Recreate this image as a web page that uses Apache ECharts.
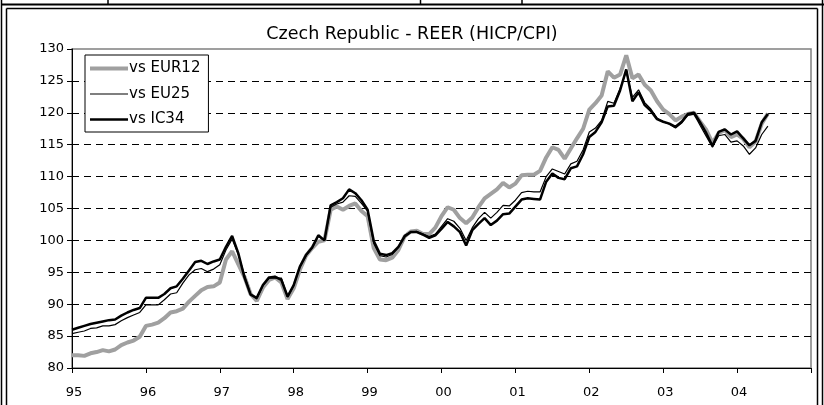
<!DOCTYPE html>
<html><head><meta charset="utf-8">
<script src="https://cdn.jsdelivr.net/npm/echarts@6/dist/echarts.min.js"></script>
<style>html,body{margin:0;padding:0;background:#fff}#c{width:824px;height:405px}</style>
</head><body><div id="c"></div><script>
const chartTitle = 'Czech Republic - REER (HICP/CPI)';
const seriesNames = ['vs EUR12', 'vs EU25', 'vs IC34'];
const startYear = 1995;
const endYear = 2005;
const xTickLabels = ['95','96','97','98','99','00','01','02','03','04'];
const yTicks = [80, 85, 90, 95, 100, 105, 110, 115, 120, 125, 130];

const eur12 = [
 82.0, 82.0, 81.9, 82.3, 82.5, 82.8, 82.6, 82.9, 83.6, 84.0, 84.3, 84.9,
 86.6, 86.8, 87.1, 87.8, 88.7, 88.9, 89.3, 90.4, 91.3, 92.2, 92.7, 92.8,
 93.4, 97.0, 98.3, 96.3, 94.3, 91.6, 90.5, 92.6, 93.8, 94.2, 93.4, 90.8,
 92.5, 95.4, 97.6, 98.8, 99.8, 100.0, 104.8, 105.3, 104.8, 105.4, 105.8, 104.6,
 103.8, 98.8, 97.0, 96.9, 97.3, 98.5, 100.6, 101.4, 101.5, 101.0, 101.0, 102.0,
 103.8, 105.2, 104.8, 103.5, 102.7, 103.6, 105.2, 106.6, 107.3, 108.0, 109.0, 108.3,
 108.9, 110.2, 110.3, 110.3, 110.9, 113.0, 114.6, 114.2, 112.8, 114.4, 116.0, 117.5,
 120.5, 121.5, 122.7, 126.5, 125.5, 126.0, 129.0, 125.4, 126.0, 124.4, 123.5, 121.8,
 120.5, 119.8, 118.8, 119.4, 119.8, 120.0, 118.6, 117.3, 115.3, 116.8, 117.3, 116.2,
 116.6, 115.9, 114.6, 115.5, 118.3, 119.9
];
const eu25 = [
 85.4, 85.6, 85.8, 86.2, 86.3, 86.6, 86.6, 86.8, 87.4, 87.9, 88.3, 88.7,
 89.9, 89.9, 89.9, 90.7, 91.6, 91.8, 93.3, 94.6, 95.4, 95.6, 95.1, 95.5,
 96.2, 98.5, 100.2, 97.8, 94.6, 91.6, 90.8, 92.9, 94.1, 94.1, 94.1, 91.1,
 92.9, 95.8, 97.6, 98.8, 100.6, 100.0, 105.2, 105.7, 106.0, 107.0, 106.9, 105.8,
 104.6, 99.5, 97.6, 97.4, 97.8, 98.9, 100.8, 101.3, 101.4, 101.0, 100.6, 101.0,
 102.2, 103.4, 103.0, 101.9, 100.0, 102.0, 103.4, 104.4, 103.5, 104.4, 105.5, 105.4,
 106.3, 107.5, 107.7, 107.6, 107.6, 110.0, 111.2, 110.8, 110.4, 112.0, 112.4, 114.2,
 117.0, 117.6, 118.8, 121.8, 121.5, 123.8, 126.5, 122.4, 123.6, 121.6, 120.6, 119.2,
 118.6, 118.2, 117.6, 118.4, 119.6, 119.8, 118.0, 116.3, 114.6, 116.4, 116.6, 115.4,
 115.6, 114.8, 113.5, 114.5, 116.6, 117.9
];
const ic34 = [
 86.0, 86.3, 86.6, 86.9, 87.1, 87.3, 87.5, 87.6, 88.2, 88.7, 89.1, 89.4,
 91.0, 91.0, 91.0, 91.6, 92.5, 92.8, 94.0, 95.3, 96.6, 96.8, 96.3, 96.7,
 97.0, 99.0, 100.7, 98.0, 94.2, 91.5, 91.0, 93.0, 94.2, 94.3, 93.8, 91.2,
 93.0, 95.9, 97.7, 98.9, 100.8, 100.0, 105.5, 106.0, 106.6, 108.0, 107.4, 106.3,
 104.8, 99.9, 97.9, 97.7, 98.0, 99.0, 100.6, 101.3, 101.3, 100.9, 100.4, 100.8,
 101.8, 102.9, 102.2, 101.3, 99.2, 101.6, 102.6, 103.5, 102.4, 103.1, 104.1, 104.2,
 105.3, 106.4, 106.6, 106.5, 106.4, 109.2, 110.5, 109.8, 109.6, 111.3, 111.6, 113.5,
 116.2, 117.0, 118.5, 121.0, 121.1, 123.5, 126.8, 121.8, 123.2, 121.2, 120.3, 119.0,
 118.6, 118.3, 117.8, 118.6, 119.8, 120.0, 118.5, 116.8, 114.8, 117.0, 117.4, 116.6,
 117.1, 116.0, 114.9, 115.6, 118.5, 119.8
];

const monthPos = eur12.map((_, i) => startYear + i / 12);
const pair = arr => arr.map((v, i) => [monthPos[i], v]);
const FONT = 'DejaVu Sans';
const colors = ['#a0a0a0', '#000', '#000'];
const widths = [4, 1.2, 2.5];

const chart = echarts.init(document.getElementById('c'), null, {renderer: 'canvas'});
const frameLine = (x1, y1, x2, y2, w) => ({type: 'line', silent: true, z: 100,
  shape: {x1, y1, x2, y2}, style: {stroke: '#000', lineWidth: w}});

chart.setOption({
  animation: false,
  backgroundColor: '#fff',
  grid: {left: 72, right: 13, top: 49, bottom: 37, show: true,
    borderColor: '#808080', borderWidth: 1.5, backgroundColor: 'transparent'},
  graphic: [
    frameLine(1.5, 0, 1.5, 405, 1.5),
    frameLine(6.5, 8.5, 6.5, 405, 1.5),
    frameLine(817.5, 8.5, 817.5, 405, 1.5),
    frameLine(822.5, 0, 822.5, 405, 1.5),
    frameLine(1.5, 4.5, 824, 4.5, 2),
    frameLine(6.5, 8.5, 817.5, 8.5, 1.5),
    frameLine(108, 0, 108, 4, 1.5),
    frameLine(420.5, 0, 420.5, 4, 1.5),
    frameLine(522, 0, 522, 4, 1.5),
    {type: 'text', left: 'center', top: 25, silent: true,
      style: {text: chartTitle, font: '17.5px "DejaVu Sans"', fill: '#000'}}
  ],
  legend: {
    orient: 'vertical', left: 85, top: 55,
    backgroundColor: '#fff', borderColor: '#000', borderWidth: 1,
    padding: [6, 8, 5, 3], itemGap: 10.5, itemWidth: 38, itemHeight: 14,
    itemStyle: {opacity: 0},
    textStyle: {fontFamily: FONT, fontSize: 15, color: '#000', padding: [0,0,0,-4]},
    data: seriesNames.map((n, i) => ({name: n,
      lineStyle: {color: colors[i], width: widths[i], opacity: 1}}))
  },
  xAxis: {
    type: 'value', min: startYear, max: endYear, interval: 1,
    axisLine: {show: true, lineStyle: {color: '#000', width: 1}},
    axisTick: {show: true, length: 5, inside: false, lineStyle: {color: '#000'}},
    axisLabel: {margin: 18, fontFamily: FONT, fontSize: 13, color: '#000',
      padding: [0, 0, 0, 4],
      formatter: v => { const i = Math.round(v - startYear); return xTickLabels[i] || ''; }},
    splitLine: {show: false}
  },
  yAxis: {
    type: 'value', min: yTicks[0], max: yTicks[yTicks.length - 1], interval: 5,
    axisLine: {show: true, lineStyle: {color: '#000', width: 1}},
    axisTick: {show: true, length: 5, lineStyle: {color: '#000'}},
    axisLabel: {margin: 8, fontFamily: FONT, fontSize: 13, color: '#000'},
    splitLine: {show: true, showMinLine: false, showMaxLine: false,
      lineStyle: {color: '#000', width: 1, type: [7, 5]}}
  },
  series: seriesNames.map((n, i) => ({
    name: n, type: 'line', data: pair([eur12, eu25, ic34][i]),
    symbol: 'none', z: 2 + i,
    lineStyle: {color: colors[i], width: widths[i]},
    itemStyle: {color: colors[i]}
  }))
});
</script></body></html>
